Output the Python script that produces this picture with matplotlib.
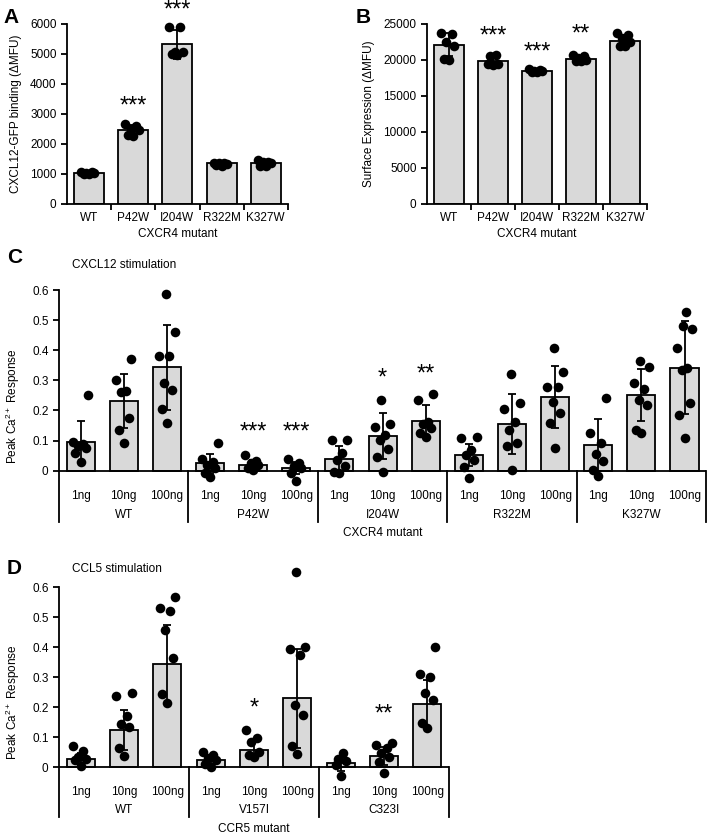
import numpy as np
import matplotlib
matplotlib.use("Agg")
import matplotlib.pyplot as plt

plt.rcParams['font.family'] = ['Liberation Sans', 'DejaVu Sans']
plt.rcParams['font.size'] = 8
plt.rcParams['mathtext.fontset'] = 'custom'
plt.rcParams['mathtext.rm'] = 'Liberation Sans'
plt.rcParams['mathtext.default'] = 'regular'

# ---------------- data ----------------
cxcr4_mutants = ['WT', 'P42W', 'I204W', 'R322M', 'K327W']
ccr5_mutants = ['WT', 'V157I', 'C323I']
doses = ['1ng', '10ng', '100ng']

# panel A: CXCL12-GFP binding
bind_mean = [1030, 2480, 5320, 1350, 1370]
bind_sd = [30, 150, 480, 30, 60]
bind_pts = [
    [1000, 1030, 1060, 1010, 1050, 1040],
    [2650, 2600, 2500, 2450, 2300, 2250],
    [5900, 5900, 5050, 5000, 4950, 5050],
    [1380, 1350, 1300, 1250, 1380, 1320],
    [1450, 1400, 1350, 1280, 1250, 1400],
]
bind_stars = ['', '***', '***', '', '']
bind_star_y = [0, 3250, 6450, 0, 0]

# panel B: surface expression
surf_mean = [22100, 19800, 18500, 20200, 22700]
surf_sd = [1600, 700, 200, 400, 600]
surf_pts = [
    [23600, 23700, 22500, 22000, 20100, 20000],
    [20700, 20600, 19500, 19500, 19300],
    [18400, 18500, 18700, 18600, 18300, 18500],
    [20700, 20500, 19900, 20000, 20300, 19800],
    [23800, 23500, 22500, 22000, 21900, 23000],
]
surf_stars = ['', '***', '***', '**', '']
surf_star_y = [0, 23200, 21000, 23500, 0]

# panel C: CXCL12 stimulation, peak Ca2+ (WT, P42W, I204W, R322M, K327W x 1/10/100 ng)
c_mean = [0.096, 0.231, 0.343, 0.024, 0.019, 0.008, 0.039, 0.115, 0.165,
          0.052, 0.155, 0.245, 0.085, 0.251, 0.342]
c_sd = [0.069, 0.089, 0.140, 0.030, 0.015, 0.020, 0.043, 0.075, 0.053,
        0.037, 0.099, 0.104, 0.087, 0.087, 0.155]
c_pts = [
    [0.251, 0.096, 0.083, 0.074, 0.058, 0.030, 0.090],
    [0.370, 0.300, 0.265, 0.260, 0.174, 0.135, 0.093],
    [0.587, 0.460, 0.380, 0.380, 0.292, 0.268, 0.204, 0.159],
    [0.093, 0.038, 0.019, 0.008, -0.009, -0.020, 0.030],
    [0.052, 0.033, 0.020, 0.008, 0.003, 0.025],
    [0.038, 0.024, 0.008, -0.009, -0.033, 0.015],
    [0.102, 0.102, 0.035, 0.015, -0.003, -0.009, 0.060],
    [0.235, 0.155, 0.146, 0.118, 0.102, 0.071, 0.044, -0.003],
    [0.255, 0.235, 0.163, 0.155, 0.141, 0.124, 0.113],
    [0.113, 0.107, 0.052, 0.035, 0.013, -0.025, 0.070],
    [0.321, 0.224, 0.204, 0.163, 0.135, 0.093, 0.082, 0.004],
    [0.409, 0.329, 0.279, 0.279, 0.229, 0.193, 0.160, 0.074],
    [0.240, 0.124, 0.093, 0.055, 0.033, 0.004, -0.018],
    [0.364, 0.346, 0.292, 0.270, 0.235, 0.218, 0.135, 0.126],
    [0.526, 0.480, 0.470, 0.409, 0.340, 0.334, 0.224, 0.185, 0.107],
]
c_stars = ['', '', '', '', '***', '***', '', '*', '**', '', '', '', '', '', '']
c_star_y = [0, 0, 0, 0, 0.128, 0.128, 0, 0.305, 0.318, 0, 0, 0, 0, 0, 0]

# panel D: CCL5 stimulation (WT, V157I, C323I x 1/10/100 ng)
d_mean = [0.027, 0.124, 0.345, 0.022, 0.058, 0.229, 0.013, 0.038, 0.210]
d_sd = [0.020, 0.066, 0.130, 0.015, 0.030, 0.165, 0.025, 0.030, 0.080]
d_pts = [
    [0.071, 0.052, 0.033, 0.027, 0.022, 0.004],
    [0.248, 0.237, 0.170, 0.144, 0.133, 0.063, 0.038],
    [0.567, 0.531, 0.520, 0.458, 0.365, 0.244, 0.213],
    [0.049, 0.041, 0.024, 0.011, 0.000, 0.030],
    [0.122, 0.096, 0.082, 0.049, 0.041, 0.033],
    [0.650, 0.400, 0.395, 0.373, 0.207, 0.174, 0.071, 0.043],
    [0.047, 0.027, 0.019, 0.008, -0.029],
    [0.080, 0.074, 0.063, 0.047, 0.033, 0.016, -0.020],
    [0.400, 0.310, 0.300, 0.246, 0.224, 0.148, 0.130],
]
d_stars = ['', '', '', '', '*', '', '', '**', '']
d_star_y = [0, 0, 0, 0, 0.195, 0, 0, 0.175, 0]

# ---------------- drawing ----------------
BAR_C = '#d9d9d9'
SPREAD = [0.0, -0.12, 0.12, -0.06, 0.06, -0.18, 0.18, -0.03, 0.03]


def draw_bars(ax, means, sds, pts, stars, star_y, width=0.66):
    x = np.arange(len(means))
    ax.bar(x, means, width=width, color=BAR_C, edgecolor='black', linewidth=1.3, zorder=1)
    ax.errorbar(x, means, yerr=sds, fmt='none', ecolor='black', elinewidth=1.3,
                capsize=3, capthick=1.3, zorder=2)
    for i, vals in enumerate(pts):
        order = np.argsort(vals)
        offs = np.zeros(len(vals))
        for k, j in enumerate(order):
            offs[j] = SPREAD[k % len(SPREAD)]
        ax.scatter(x[i] + offs, vals, s=48, color='black', zorder=3, clip_on=False,
                   linewidths=0)
    for i, st in enumerate(stars):
        if st:
            ax.text(x[i], star_y[i], st, ha='center', va='center', fontsize=17,
                    clip_on=False)
    ax.set_xlim(-0.5, len(means) - 0.5)
    for s in ['top', 'right']:
        ax.spines[s].set_visible(False)
    ax.spines['left'].set_linewidth(1.3)
    ax.tick_params(axis='y', direction='out', length=4, width=1.3, labelsize=8.5)


fig = plt.figure(figsize=(7.08, 8.36), dpi=100)

# A
axA = fig.add_axes([0.0946, 0.756, 0.312, 0.2153])
draw_bars(axA, bind_mean, bind_sd, bind_pts, bind_stars, bind_star_y, width=0.68)
axA.set_ylim(0, 6000)
axA.set_yticks(np.arange(0, 6001, 1000))
axA.set_ylabel('CXCL12-GFP binding (\u0394MFU)', fontsize=8.5, labelpad=6)

# B
axB = fig.add_axes([0.603, 0.756, 0.311, 0.2153])
draw_bars(axB, surf_mean, surf_sd, surf_pts, surf_stars, surf_star_y, width=0.68)
axB.set_ylim(0, 25000)
axB.set_yticks(np.arange(0, 25001, 5000))
axB.set_ylabel('Surface Expression (\u0394MFU)', fontsize=8.5, labelpad=6)

for ax in (axA, axB):
    ax.spines['bottom'].set_linewidth(1.3)
    ax.set_xticks(np.arange(5))
    ax.set_xticklabels(cxcr4_mutants, fontsize=8.5)
    ax.set_xticks(np.arange(5) + 0.5, minor=True)
    ax.tick_params(axis='x', which='major', length=0, pad=6)
    ax.tick_params(axis='x', which='minor', length=4, width=1.3, direction='out')
    ax.set_xlabel('CXCR4 mutant', fontsize=8.5, labelpad=3)


def grouped(ax, means, sds, pts, stars, star_y, groups, xlabel, ybottom):
    draw_bars(ax, means, sds, pts, stars, star_y, width=0.65)
    ax.set_ylim(ybottom, 0.6)
    ax.set_yticks(np.arange(0, 0.61, 0.1))
    ax.set_yticklabels(['0', '0.1', '0.2', '0.3', '0.4', '0.5', '0.6'])
    ax.spines['bottom'].set_visible(False)
    ax.axhline(0, color='black', linewidth=1.3, zorder=2.5)
    ax.set_xticks([])
    ax.set_ylabel('Peak Ca$^{2+}$ Response', fontsize=8.5, labelpad=7)
    ax.set_xlabel(xlabel, fontsize=8.5, labelpad=4)
    zero_frac = (0 - ybottom) / (0.6 - ybottom)
    n = len(groups)
    for g in range(n):
        xr = g * 3 + 2.5
        ax.axvline(xr, ymin=0, ymax=zero_frac, color='black', linewidth=1.3,
                   clip_on=False)
        ax.text(g * 3 + 1, ybottom * 0.86, groups[g], ha='center', va='center',
                fontsize=8.5)
        for d in range(3):
            ax.text(g * 3 + d, ybottom * 0.5, doses[d], ha='center', va='center',
                    fontsize=8.5)


# C
axC = fig.add_axes([0.0833, 0.3757, 0.914, 0.2774])
grouped(axC, c_mean, c_sd, c_pts, c_stars, c_star_y, cxcr4_mutants, 'CXCR4 mutant', -0.17)

# D
axD = fig.add_axes([0.0833, 0.0226, 0.551, 0.2752])
grouped(axD, d_mean, d_sd, d_pts, d_stars, d_star_y, ccr5_mutants, 'CCR5 mutant', -0.167)

# panel letters and titles
fig.text(0.005, 0.99, 'A', fontsize=15, fontweight='bold', va='top')
fig.text(0.503, 0.99, 'B', fontsize=15, fontweight='bold', va='top')
fig.text(0.01, 0.692, 'C', fontsize=15, fontweight='bold', va='center')
fig.text(0.01, 0.32, 'D', fontsize=15, fontweight='bold', va='center')
fig.text(0.102, 0.683, 'CXCL12 stimulation', fontsize=8.5, va='center')
fig.text(0.102, 0.319, 'CCL5 stimulation', fontsize=8.5, va='center')

fig.savefig('out.png', dpi=100)
